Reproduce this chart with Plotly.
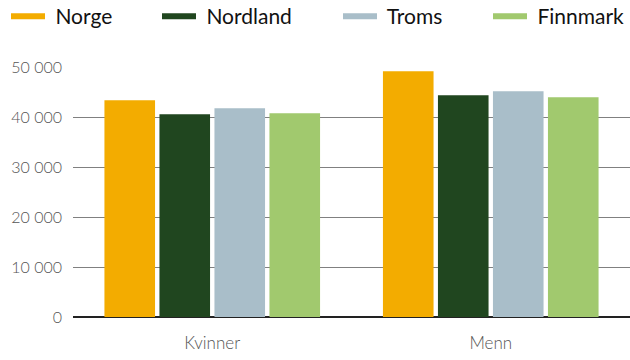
import plotly.graph_objects as go

categories = ["Kvinner", "Menn"]
series_names = ["Norge", "Nordland", "Troms", "Finnmark"]
norge = [43350, 49150]
nordland = [40550, 44350]
troms = [41750, 45150]
finnmark = [40750, 43950]
colors = ["#F3AC00", "#20461F", "#A9BEC9", "#A1C96E"]
tick_vals = [0, 10000, 20000, 30000, 40000, 50000]

values = [norge, nordland, troms, finnmark]
legend_ids = ["legend", "legend2", "legend3", "legend4"]
legend_x_px = [6, 157, 338, 488]

fig = go.Figure()
for name, vals, col in zip(series_names, values, colors):
    fig.add_trace(go.Bar(x=categories, y=vals, name=name, marker_color=col,
                         marker_line_width=0, showlegend=False))
for name, col, lid in zip(series_names, colors, legend_ids):
    fig.add_trace(go.Scatter(x=[None], y=[None], mode="lines", name="\u00a0" + name,
                             legend=lid, line=dict(color=col, width=6)))

legend_common = dict(orientation="h", xref="container", xanchor="left",
                     y=1 - 16.5 / 360, yref="container", yanchor="middle",
                     font=dict(size=21, color="#111111", family="Lato"),
                     itemwidth=34, bgcolor="rgba(0,0,0,0)")
legends = {}
for lid, px in zip(legend_ids, legend_x_px):
    legends[lid] = dict(legend_common, x=px / 630)

fig.update_layout(
    width=630, height=360,
    margin=dict(l=73, r=0, t=67, b=43),
    paper_bgcolor="white", plot_bgcolor="white",
    separators=", ",
    barmode="group", bargap=0.21, bargroupgap=0.08,
    font=dict(family="Lato", color="#555555"),
    showlegend=True,
    **legends,
)
fig.update_xaxes(showgrid=False, showline=False, ticks="", ticklabelstandoff=14,
                 tickfont=dict(size=17, color="#555555", weight=300))
fig.update_yaxes(range=[0, 50000], tickvals=tick_vals, tickformat=",d",
                 showgrid=True, gridcolor="#808080", gridwidth=1,
                 zeroline=True, zerolinecolor="#222222", zerolinewidth=1.5,
                 showline=False, ticks="", ticklabelstandoff=10,
                 tickfont=dict(size=16, color="#555555", weight=300))

fig.write_html("out.html", config={"displayModeBar": False},
               post_script="document.body.style.margin='0';")
